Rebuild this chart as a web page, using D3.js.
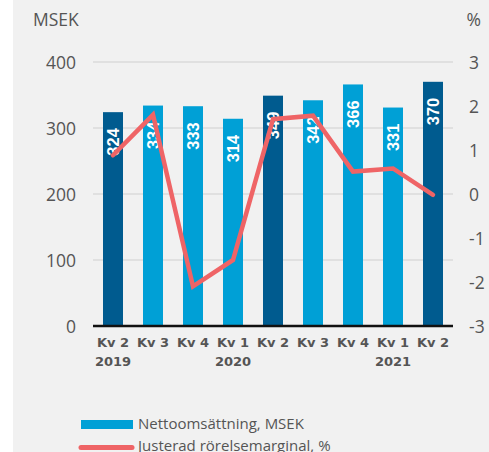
<!DOCTYPE html>
<html>
<head>
<meta charset="utf-8">
<script src="https://cdn.jsdelivr.net/npm/d3@7"></script>
<style>
  html, body { margin: 0; padding: 0; background: #ffffff; }
  svg { display: block; }
</style>
</head>
<body>
<svg id="chart" width="489" height="452"></svg>
<script>
const quarters = ["Kv 2", "Kv 3", "Kv 4", "Kv 1", "Kv 2", "Kv 3", "Kv 4", "Kv 1", "Kv 2"];
const years = ["2019", "", "", "2020", "", "", "", "2021", ""];
const highlight = [true, false, false, false, true, false, false, false, true];
const netSales = [324, 334, 333, 314, 349, 342, 366, 331, 370];
const margin = [0.88, 1.8, -2.1, -1.5, 1.7, 1.78, 0.51, 0.58, -0.02];
const leftTicks = [0, 100, 200, 300, 400];
const rightTicks = [-3, -2, -1, 0, 1, 2, 3];
const seriesNames = ["Nettoomsättning, MSEK", "Justerad rörelsemarginal, %"];

const svg = d3.select("#chart");
const font = "'Open Sans', sans-serif";
const boldFont = "'DejaVu Sans', sans-serif";

// background panel
svg.append("rect").attr("x", 13).attr("y", 0).attr("width", 476).attr("height", 452).attr("fill", "#f1f1f1");

const x0 = 93, x1 = 453, yTop = 62, yBot = 326;
const idx = d3.range(quarters.length);
const x = d3.scaleBand().domain(idx).range([x0, x1]).paddingInner(0.5).paddingOuter(0.25);
const yL = d3.scaleLinear().domain([0, 400]).range([yBot, yTop]);
const yR = d3.scaleLinear().domain([-3, 3]).range([yBot, yTop]);

// gridlines
svg.append("g").selectAll("line").data(leftTicks.filter(d => d > 0)).join("line")
  .attr("x1", x0).attr("x2", x1)
  .attr("y1", d => yL(d)).attr("y2", d => yL(d))
  .attr("stroke", "#cfcfcf").attr("stroke-width", 1);

// left axis
const la = svg.append("g").attr("transform", `translate(76,0)`)
  .call(d3.axisLeft(yL).tickValues(leftTicks).tickSize(0).tickPadding(0));
la.select(".domain").remove();
la.selectAll("text").attr("font-family", font).attr("font-size", 17.5).attr("fill", "#555").attr("dy", "0.35em");

// right axis
const ra = svg.append("g").attr("transform", `translate(469,0)`)
  .call(d3.axisRight(yR).tickValues(rightTicks).tickSize(0).tickPadding(0).tickFormat(d => String(d)));
ra.select(".domain").remove();
ra.selectAll("text").attr("font-family", font).attr("font-size", 17.5).attr("fill", "#555").attr("dy", "0.35em");

// axis titles
svg.append("text").attr("x", 33).attr("y", 26).text("MSEK")
  .attr("font-family", font).attr("font-size", 17.5).attr("fill", "#555");
svg.append("text").attr("x", 481).attr("y", 26).attr("text-anchor", "end").text("%")
  .attr("font-family", font).attr("font-size", 17.5).attr("fill", "#555");

// bars
svg.append("g").selectAll("rect").data(idx).join("rect")
  .attr("x", i => x(i)).attr("width", x.bandwidth())
  .attr("y", i => yL(netSales[i])).attr("height", i => yBot - yL(netSales[i]))
  .attr("fill", i => highlight[i] ? "#005b8f" : "#00a0d6");

// bar labels
svg.append("g").selectAll("text").data(idx).join("text")
  .attr("transform", i => `translate(${x(i) + x.bandwidth() / 2 + 6},${yL(netSales[i]) + 16}) rotate(-90)`)
  .attr("text-anchor", "end")
  .attr("font-family", "'Liberation Sans', Arial, sans-serif").attr("font-weight", "bold")
  .attr("font-size", 16.5).attr("fill", "#ffffff")
  .text(i => netSales[i]);

// zero baseline
svg.append("line").attr("x1", x0).attr("x2", x1).attr("y1", yBot).attr("y2", yBot)
  .attr("stroke", "#111").attr("stroke-width", 2.5);

// x labels
const xl = svg.append("g");
xl.selectAll("text.q").data(idx).join("text").attr("class", "q")
  .attr("x", i => x(i) + x.bandwidth() / 2).attr("y", 347)
  .attr("text-anchor", "middle").attr("font-family", boldFont).attr("font-weight", "bold")
  .attr("font-size", 13).attr("fill", "#555").text(i => quarters[i]);
xl.selectAll("text.y").data(idx.filter(i => years[i])).join("text").attr("class", "y")
  .attr("x", i => x(i) + x.bandwidth() / 2).attr("y", 366)
  .attr("text-anchor", "middle").attr("font-family", boldFont).attr("font-weight", "bold")
  .attr("font-size", 13).attr("fill", "#555").text(i => years[i]);

// margin line
const line = d3.line().x(i => x(i) + x.bandwidth() / 2).y(i => yR(margin[i]));
svg.append("path").datum(idx).attr("d", line)
  .attr("fill", "none").attr("stroke", "#ef6466").attr("stroke-width", 4.5)
  .attr("stroke-linecap", "round").attr("stroke-linejoin", "miter");

// legend
svg.append("rect").attr("x", 81).attr("y", 420).attr("width", 52).attr("height", 9).attr("fill", "#00a0d6");
svg.append("text").attr("x", 138).attr("y", 429).text(seriesNames[0])
  .attr("font-family", font).attr("font-size", 15).attr("fill", "#555");
svg.append("line").attr("x1", 81).attr("x2", 132).attr("y1", 447.5).attr("y2", 447.5)
  .attr("stroke", "#ef6466").attr("stroke-width", 5).attr("stroke-linecap", "round");
svg.append("text").attr("x", 138).attr("y", 451).text(seriesNames[1])
  .attr("font-family", font).attr("font-size", 15).attr("fill", "#555");
</script>
</body>
</html>
